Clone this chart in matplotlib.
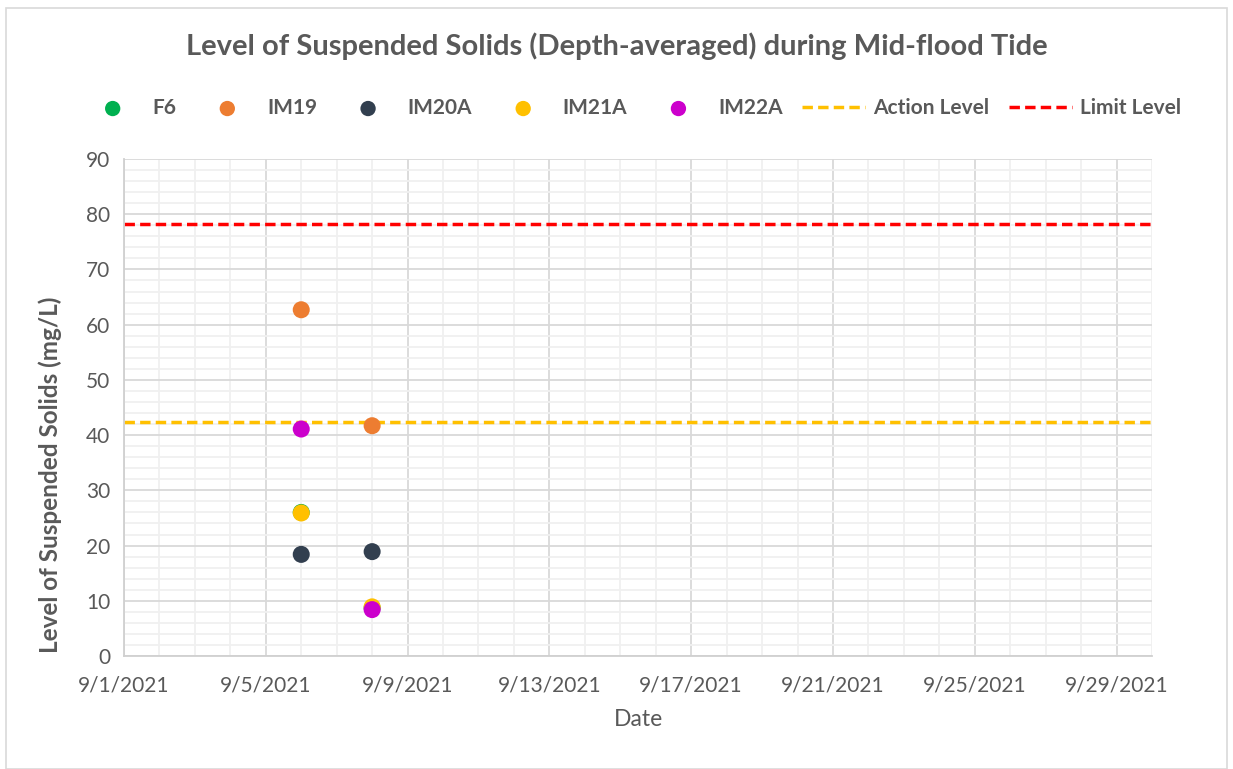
import numpy as np
import matplotlib.pyplot as plt
import matplotlib.dates as mdates
from matplotlib.patches import Rectangle
from datetime import datetime

plt.rcParams['font.family'] = ['Lato', 'DejaVu Sans']

# sampling dates and values (mg/L)
dates = [datetime(2021, 9, 6), datetime(2021, 9, 8)]
f6 = [26.0, 8.7]
im19 = [62.7, 41.7]
im20a = [18.4, 18.9]
im21a = [25.9, 8.9]
im22a = [41.1, 8.4]

action_level = 42.3
limit_level = 78.2

stations = ["F6", "IM19", "IM20A", "IM21A", "IM22A"]
colors = ["#00b050", "#ed7d31", "#323f4f", "#ffc000", "#cc00cc"]
series = [f6, im19, im20a, im21a, im22a]

txt = "#595959"
fig = plt.figure(figsize=(12.33, 7.69), dpi=100)
ax = fig.add_axes([124 / 1233, 1 - 656 / 769, (1152 - 124) / 1233, (656 - 159) / 769])

for name, vals, c in zip(stations, series, colors):
    ax.scatter(dates, vals, s=150, color=c, label=name, zorder=3, edgecolors="none")

x0 = datetime(2021, 9, 1)
x1 = datetime(2021, 9, 30)
ax.plot([x0, x1], [action_level] * 2, color="#ffc000", lw=2.5, ls=(0, (3, 1.5)), label="Action Level", zorder=2)
ax.plot([x0, x1], [limit_level] * 2, color="#ff0000", lw=2.5, ls=(0, (3, 1.5)), label="Limit Level", zorder=2)

ax.set_xlim(x0, x1)
ax.set_ylim(0, 90)
ax.xaxis.set_major_locator(mdates.DayLocator(bymonthday=[1, 5, 9, 13, 17, 21, 25, 29]))
ax.xaxis.set_minor_locator(mdates.DayLocator())
ax.xaxis.set_major_formatter(plt.FuncFormatter(
    lambda v, p: "{d.month}/{d.day}/{d.year}".format(d=mdates.num2date(v))))
ax.set_yticks(np.arange(0, 91, 10))
ax.set_yticks(np.arange(0, 91, 2), minor=True)

ax.grid(True, which="major", color="#d9d9d9", lw=1.3)
ax.grid(True, which="minor", color="#f0f0f0", lw=1.3)
ax.set_axisbelow(True)
for s in ["top", "right"]:
    ax.spines[s].set_visible(False)
for s in ["left", "bottom"]:
    ax.spines[s].set_color("#d0d0d0")
    ax.spines[s].set_linewidth(1.3)
ax.tick_params(which="both", length=0, labelsize=15, labelcolor=txt, pad=10)
ax.tick_params(axis="x", pad=14)

ax.set_xlabel("Date", fontsize=16.5, color=txt, labelpad=10)
ax.set_ylabel("Level of Suspended Solids (mg/L)", fontsize=17.5, color=txt, fontweight="bold")
ax.yaxis.set_label_coords(-0.060, 0.364)

fig.text(0.5, 1 - 46 / 769, "Level of Suspended Solids (Depth-averaged) during Mid-flood Tide",
         ha="center", va="center", fontsize=21, fontweight="bold", color=txt)

leg = fig.legend(loc="center", bbox_to_anchor=(0.512, 1 - 108 / 769), ncol=7, frameon=False,
                 fontsize=15, handlelength=3.0, columnspacing=0.95, handletextpad=0.4,
                 markerscale=0.9)
for t in leg.get_texts():
    t.set_color(txt)
    t.set_fontweight("bold")

fig.patches.append(Rectangle((6 / 1233, 0), 1221 / 1233, 1 - 8 / 769, transform=fig.transFigure,
                             fill=False, edgecolor="#d9d9d9", lw=1.2))

fig.savefig("out.png", dpi=100)
